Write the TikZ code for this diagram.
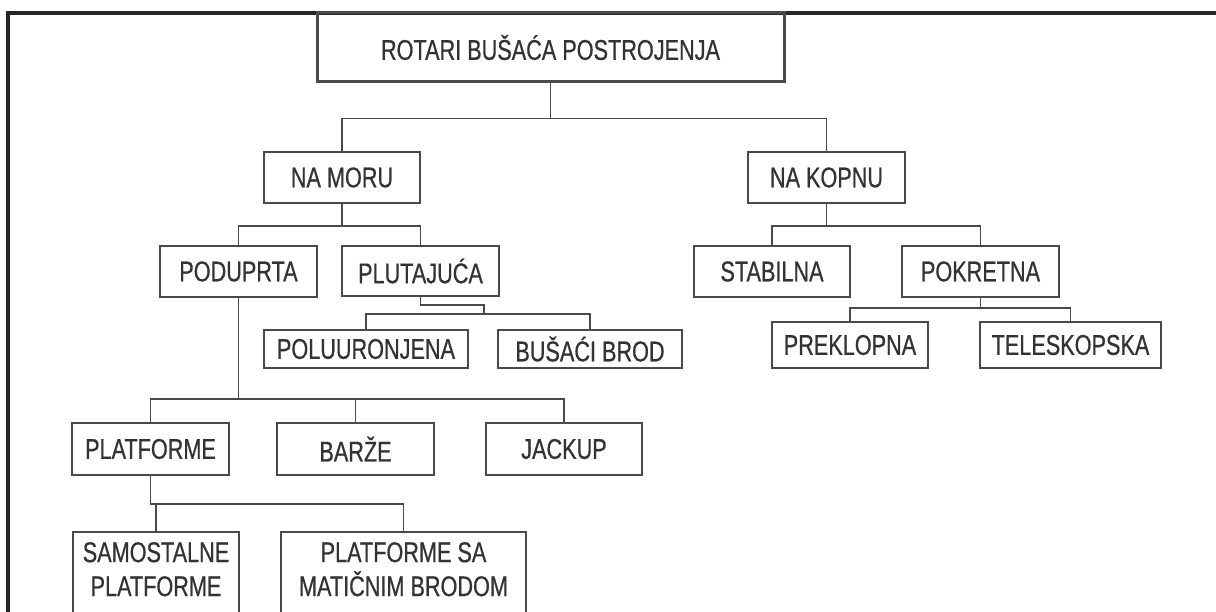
\documentclass[tikz,border=0pt]{standalone}
\usepackage{fontspec}
\setmainfont[FakeStretch=0.76,FakeBold=0.6]{Liberation Sans}
\definecolor{ln}{HTML}{4A4A4A}
\definecolor{tx}{HTML}{333333}
\definecolor{fr}{HTML}{262626}
\begin{document}
\begin{tikzpicture}[x=1pt,y=-1pt,
  bx/.style={draw=ln, line width=1.9pt, inner sep=0pt, font=\fontsize{28.5}{34}\selectfont, text=tx, align=center},
  cn/.style={draw=ln, line width=1.9pt},
  lbl/.style={font=\fontsize{28.5}{34}\selectfont, text=tx, align=center, inner sep=0pt, anchor=north}
]
\fill[white] (0,0) rectangle (1216,612);
\useasboundingbox (0,0) rectangle (1216,612);
\clip (0,0) rectangle (1216,612);
% frame
\draw[line width=3.2pt, draw=fr] (8,612) -- (8,13) -- (1216,13);
% nodes
\node[bx, line width=3pt, minimum width=467, minimum height=69] (root) at (550.5,47.5) {ROTARI BUŠAĆA POSTROJENJA};
\node[bx, minimum width=156, minimum height=51] (namoru) at (342,177.5) {NA MORU};
\node[bx, minimum width=157, minimum height=51] (nakopnu) at (826.5,177.5) {NA KOPNU};
\node[bx, minimum width=157, minimum height=51] (podu) at (238.5,271.5) {PODUPRTA};
\node[bx, minimum width=157, minimum height=50] (plut) at (420.5,271) {PLUTAJUĆA};
\node[bx, minimum width=156, minimum height=51] (stab) at (772,271.5) {STABILNA};
\node[bx, minimum width=157, minimum height=51] (pokr) at (980.5,271.5) {POKRETNA};
\node[bx, minimum width=204, minimum height=38] (polu) at (366,349) {POLUURONJENA};
\node[bx, minimum width=184, minimum height=38] (busa) at (590,349) {BUŠAĆI BROD};
\node[bx, minimum width=156, minimum height=46] (prek) at (850,345) {PREKLOPNA};
\node[bx, minimum width=181, minimum height=46] (tele) at (1070.5,345) {TELESKOPSKA};
\node[bx, minimum width=157, minimum height=52] (platf) at (150.5,449) {PLATFORME};
\node[bx, minimum width=157, minimum height=52] (barze) at (355.5,449) {BARŽE};
\node[bx, minimum width=156, minimum height=52] (jack) at (564,449) {JACKUP};
\node[bx, anchor=north, minimum width=166, minimum height=140,
  label={[lbl, yshift=-11pt]north:SAMOSTALNE\\PLATFORME}] (samo) at (156,531) {};
\node[bx, anchor=north, minimum width=245, minimum height=140,
  label={[lbl, yshift=-11pt]north:PLATFORME SA\\MATIČNIM BRODOM}] (mat) at (403.5,531) {};
% connectors
\draw[cn] (root.south) -- ++(0,35) coordinate (j0) -| (namoru.north);
\draw[cn] (j0) -| (nakopnu.north);
\draw[cn] (namoru.south) -- ++(0,22) coordinate (j1) -| (podu.north);
\draw[cn] (j1) -| (plut.north);
\draw[cn] (nakopnu.south) -- ++(0,22) coordinate (j2) -| (stab.north);
\draw[cn] (j2) -| (pokr.north);
\draw[cn] (plut.south) -- ++(0,8) -| ++(63.5,9) coordinate (j3);
\draw[cn] (polu.north) |- (j3) -| (busa.north);
\draw[cn] (pokr.south) -- ++(0,10) coordinate (j4) -| (prek.north);
\draw[cn] (j4) -| (tele.north);
\draw[cn] (podu.south) -- ++(0,101) coordinate (j5);
\draw[cn] (platf.north) |- (j5) -| (jack.north);
\draw[cn] (barze.north) -- (barze.north |- j5);
\draw[cn] (platf.south) -- ++(0,28) coordinate (j6) -| (mat.north);
\draw[cn] (j6) -| (samo.north);
\end{tikzpicture}
\end{document}
